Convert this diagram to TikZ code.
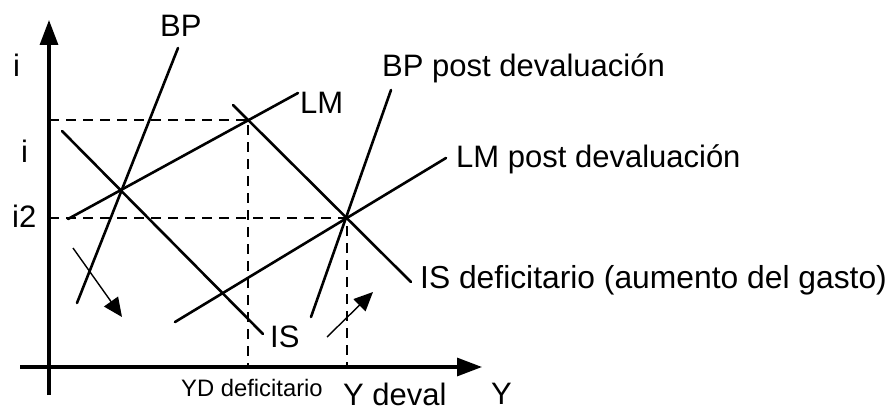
\documentclass[tikz,border=0pt]{standalone}
\usepackage{fontspec}
\setmainfont{Liberation Sans}
\usetikzlibrary{arrows.meta}
\begin{document}
\begin{tikzpicture}[x=1pt,y=-1pt,
  axis/.style={line width=3.2pt,-{Triangle[length=25pt,width=18pt]}},
  curve/.style={line width=2.6pt,line cap=round},
  guide/.style={line width=1.5pt,dash pattern=on 10pt off 7pt},
  shift arrow/.style={line width=1.4pt,-{Triangle[length=19pt,width=17pt]}},
  lbl/.style={inner sep=0pt,anchor=base west,font=\fontsize{31}{36}\selectfont},
  small lbl/.style={lbl,font=\fontsize{23.8}{28}\selectfont}]
\useasboundingbox (0,0) rectangle (889,412);

% axes
\coordinate (ybot) at (49,395);
\coordinate (ytop) at (49,20);
\coordinate (xleft) at (20,367);
\coordinate (xright) at (482,367);
\draw[axis] (ybot) -- (ytop);
\draw[axis] (xleft) -- (xright);

% equilibrium guides
\coordinate (iA) at (49,120);
\coordinate (eA) at (248,120);
\coordinate (yA) at (248,367);
\coordinate (iB) at (49,218);
\coordinate (eB) at (347,218);
\coordinate (yB) at (347,367);
\draw[guide] (iA) -- (eA) -- (yA);
\draw[guide] (iB) -- (eB) -- (yB);

% curves
\coordinate (bp1) at (178,48);   \coordinate (bp2) at (77,303);
\coordinate (lm1) at (68,219);   \coordinate (lm2) at (298,93);
\coordinate (is1) at (62,131);   \coordinate (is2) at (263,334);
\coordinate (isd1) at (233,105); \coordinate (isd2) at (411,282);
\coordinate (bpp1) at (391,90);  \coordinate (bpp2) at (311,317);
\coordinate (lmp1) at (175,322); \coordinate (lmp2) at (446,158);
\draw[curve] (bp1) -- (bp2);
\draw[curve] (lm1) -- (lm2);
\draw[curve] (is1) -- (is2);
\draw[curve] (isd1) -- (isd2);
\draw[curve] (bpp1) -- (bpp2);
\draw[curve] (lmp1) -- (lmp2);

% shift arrows
\coordinate (s1a) at (73,248);  \coordinate (s1b) at (122,317);
\coordinate (s2a) at (327,337); \coordinate (s2b) at (373,292);
\draw[shift arrow] (s1a) -- (s1b);
\draw[shift arrow] (s2a) -- (s2b);

% labels
\node[lbl] (lBP) at (160,37) {BP};
\node[lbl] (li) at (13,77) {i};
\node[lbl] (li1) at (21,162) {i};
\node[lbl] (li2) at (12,227) {i2};
\node[lbl] (lLM) at (300,113) {LM};
\node[lbl] (lBPp) at (382,77) {BP post devaluación};
\node[lbl] (lLMp) at (456,167) {LM post devaluación};
\node[lbl,font=\fontsize{31.8}{36}\selectfont] (lISd) at (420,288) {IS deficitario (aumento del gasto)};
\node[lbl] (lIS) at (270,347) {IS};
\node[small lbl] (lYD) at (181,396) {YD deficitario};
\node[lbl,text depth=0pt] (lYdev) at (343,405) {Y deval};
\node[lbl,text depth=0pt] (lY) at (491,404) {Y};
\end{tikzpicture}
\end{document}
